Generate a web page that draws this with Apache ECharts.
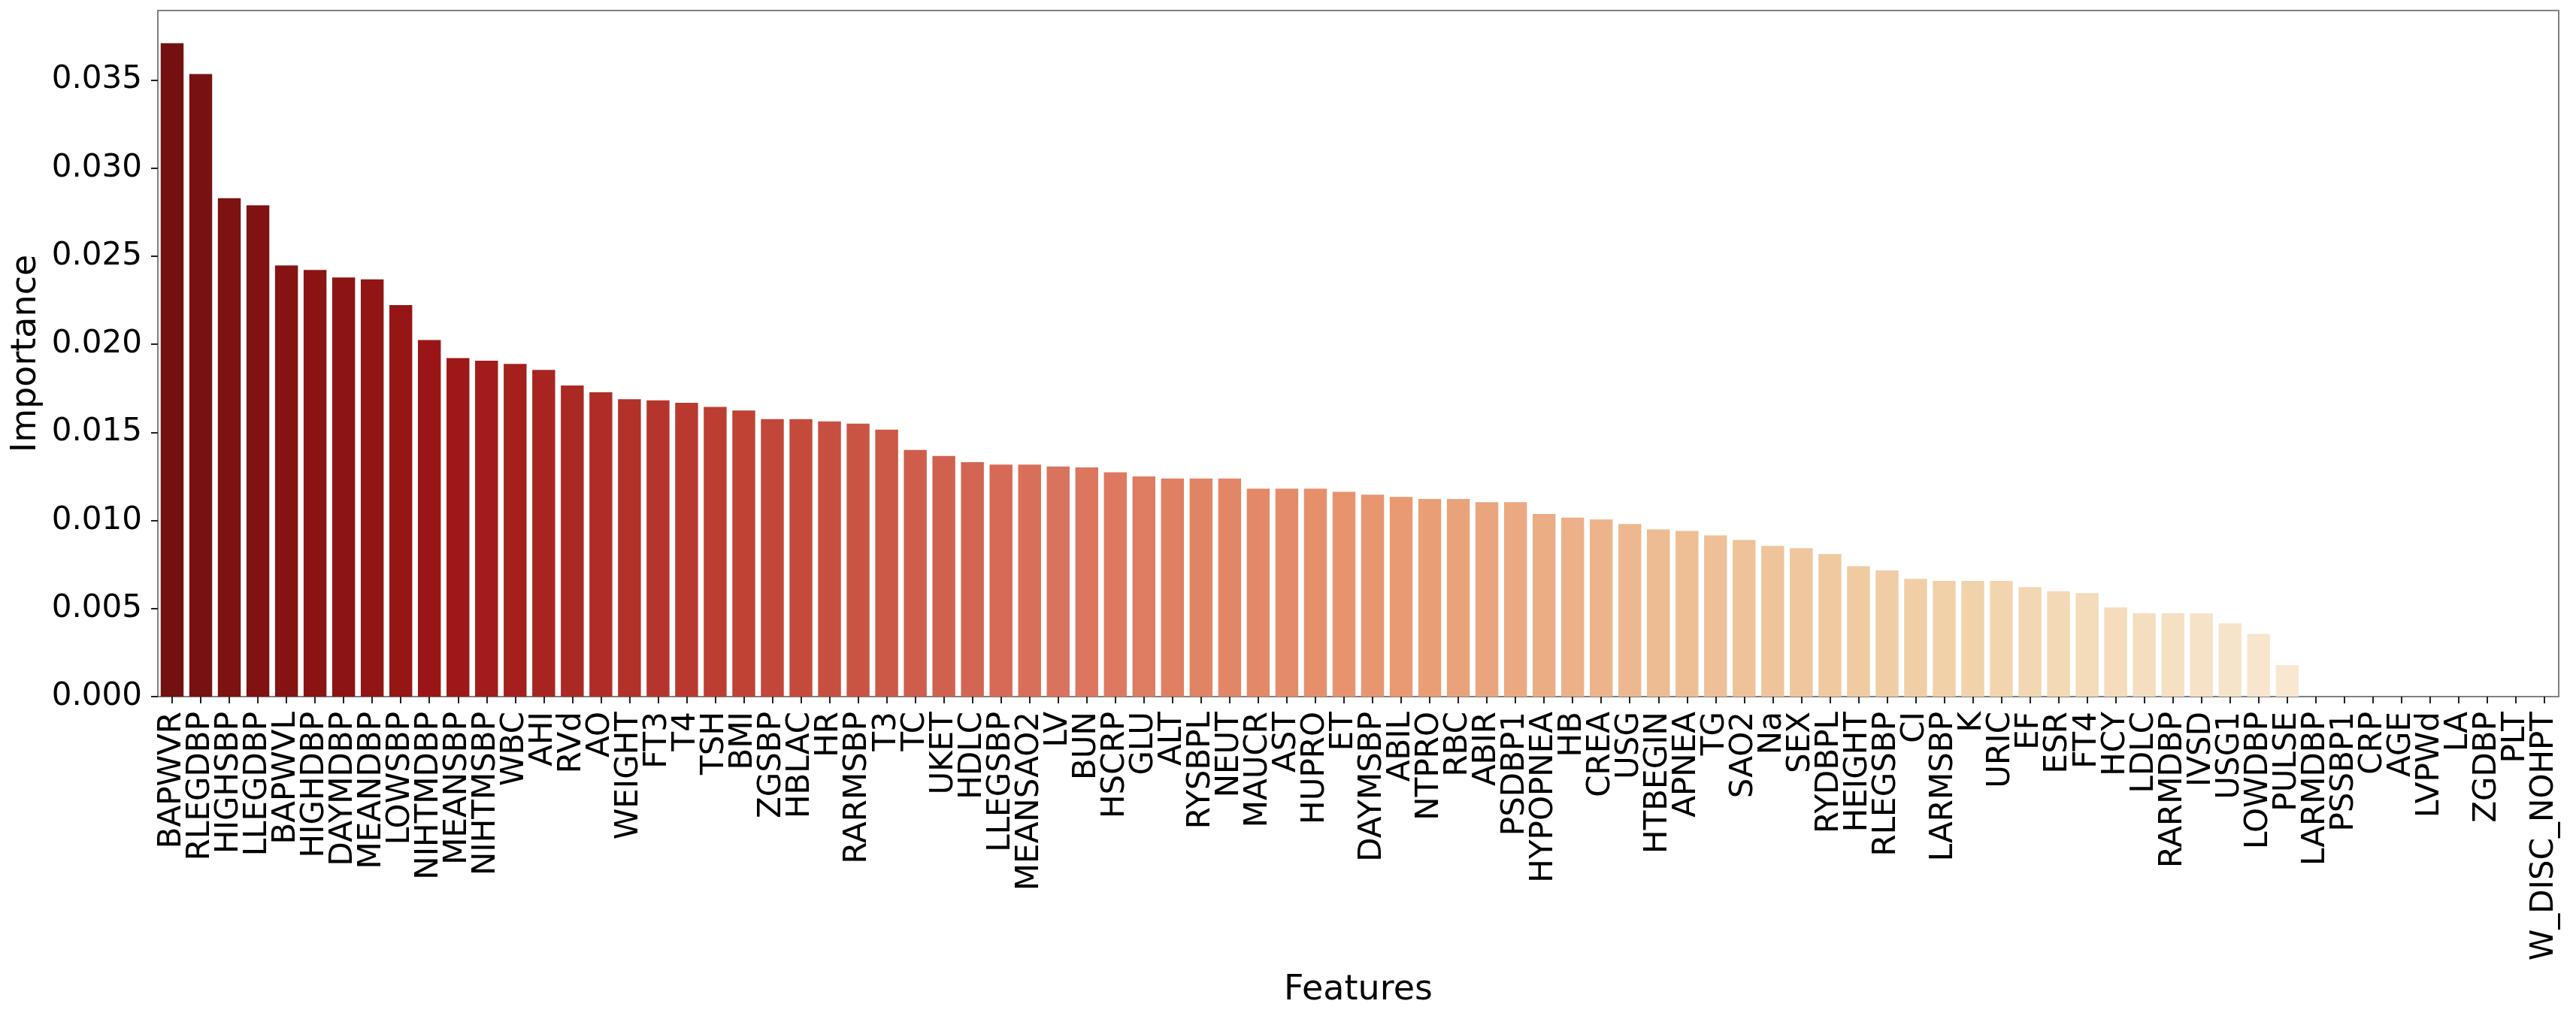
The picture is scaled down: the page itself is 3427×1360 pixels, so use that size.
<!DOCTYPE html>
<html>
<head>
<meta charset="utf-8">
<script src="https://cdn.jsdelivr.net/npm/echarts@6/dist/echarts.min.js"></script>
<style>
  html, body { margin: 0; padding: 0; background: #ffffff; }
  #chart { width: 3427px; height: 1360px; }
</style>
</head>
<body>
<div id="chart"></div>
<script>
const features = ['BAPWVR','RLEGDBP','HIGHSBP','LLEGDBP','BAPWVL','HIGHDBP','DAYMDBP','MEANDBP','LOWSBP','NIHTMDBP',
  'MEANSBP','NIHTMSBP','WBC','AHI','RVd','AO','WEIGHT','FT3','T4','TSH',
  'BMI','ZGSBP','HBLAC','HR','RARMSBP','T3','TC','UKET','HDLC','LLEGSBP',
  'MEANSAO2','LV','BUN','HSCRP','GLU','ALT','RYSBPL','NEUT','MAUCR','AST',
  'HUPRO','ET','DAYMSBP','ABIL','NTPRO','RBC','ABIR','PSDBP1','HYPOPNEA','HB',
  'CREA','USG','HTBEGIN','APNEA','TG','SAO2','Na','SEX','RYDBPL','HEIGHT',
  'RLEGSBP','CI','LARMSBP','K','URIC','EF','ESR','FT4','HCY','LDLC',
  'RARMDBP','IVSD','USG1','LOWDBP','PULSE','LARMDBP','PSSBP1','CRP','AGE','LVPWd',
  'LA','ZGDBP','PLT','W_DISC_NOHPT'];

const importance = [0.03709,0.03535,0.02830,0.02789,0.02448,0.02422,0.02379,0.02369,0.02223,0.02024,
  0.01922,0.01907,0.01889,0.01855,0.01766,0.01728,0.01688,0.01682,0.01668,0.01645,
  0.01624,0.01575,0.01575,0.01562,0.01550,0.01516,0.01400,0.01366,0.01331,0.01317,
  0.01317,0.01307,0.01301,0.01273,0.01250,0.01238,0.01238,0.01238,0.01181,0.01181,
  0.01181,0.01163,0.01146,0.01134,0.01122,0.01122,0.01104,0.01104,0.01037,0.01016,
  0.01006,0.00980,0.00949,0.00941,0.00915,0.00890,0.00855,0.00843,0.00809,0.00740,
  0.00717,0.00669,0.00657,0.00657,0.00657,0.00622,0.00598,0.00588,0.00507,0.00474,
  0.00474,0.00473,0.00416,0.00356,0.00179,0,0,0,0,0,
  0,0,0,0];

const yTicks = [0, 0.005, 0.010, 0.015, 0.020, 0.025, 0.030, 0.035];

// OrRd colormap anchors (reversed palette, desaturated like seaborn)
const orrdAnchors = ['#fff7ec','#fee8c8','#fdd49e','#fdbb84','#fc8d59','#ef6548','#d7301f','#b30000','#7f0000'];
function hexToRgb(h){ return [parseInt(h.slice(1,3),16), parseInt(h.slice(3,5),16), parseInt(h.slice(5,7),16)]; }
function orrd(x){
  const p = Math.max(0, Math.min(1, x)) * 8;
  const i = Math.min(7, Math.floor(p));
  const f = p - i;
  const a = hexToRgb(orrdAnchors[i]), b = hexToRgb(orrdAnchors[i+1]);
  return a.map((v, k) => (v + (b[k] - v) * f) / 255);
}
function rgbToHls(r,g,b){
  const mx = Math.max(r,g,b), mn = Math.min(r,g,b);
  const l = (mx + mn) / 2;
  if (mx === mn) return [0, l, 0];
  const d = mx - mn;
  const s = l <= 0.5 ? d / (mx + mn) : d / (2 - mx - mn);
  let h;
  if (mx === r) h = ((g - b) / d) % 6;
  else if (mx === g) h = (b - r) / d + 2;
  else h = (r - g) / d + 4;
  h = h / 6; if (h < 0) h += 1;
  return [h, l, s];
}
function hlsToRgb(h,l,s){
  if (s === 0) return [l,l,l];
  const q = l < 0.5 ? l * (1 + s) : l + s - l * s;
  const p = 2 * l - q;
  function hue(t){ if (t<0) t+=1; if (t>1) t-=1;
    if (t < 1/6) return p + (q - p) * 6 * t;
    if (t < 1/2) return q;
    if (t < 2/3) return p + (q - p) * (2/3 - t) * 6;
    return p; }
  return [hue(h + 1/3), hue(h), hue(h - 1/3)];
}
function colorFor(i, n){
  const t = (i + 1) / (n + 1);
  const c = orrd(1 - t);
  const hls = rgbToHls(c[0], c[1], c[2]);
  const rgb = hlsToRgb(hls[0], hls[1], hls[2] * 0.75);
  return 'rgb(' + rgb.map(v => Math.round(v * 255)).join(',') + ')';
}

const barData = importance.map((v, i) => ({ value: v, itemStyle: { color: colorFor(i, features.length) } }));

const font = 'DejaVu Sans';
const chart = echarts.init(document.getElementById('chart'), null, { renderer: 'canvas' });
chart.setOption({
  animation: false,
  backgroundColor: '#ffffff',
  grid: { left: 210, right: 23, top: 14, bottom: 433, containLabel: false, show: true, borderColor: '#808080', borderWidth: 2, backgroundColor: 'transparent' },
  xAxis: {
    type: 'category',
    data: features,
    boundaryGap: true,
    name: 'Features',
    nameLocation: 'middle',
    nameGap: 368,
    nameTextStyle: { fontFamily: font, fontSize: 46, color: '#000' },
    axisLine: { show: true, lineStyle: { color: '#808080', width: 2 } },
    axisTick: { show: true, alignWithLabel: true, length: 9, lineStyle: { color: '#222', width: 2 } },
    axisLabel: { rotate: 90, interval: 0, margin: 20, fontFamily: font, fontSize: 42, color: '#000' }
  },
  yAxis: {
    type: 'value',
    min: 0,
    max: 0.03895,
    interval: 0.005,
    name: 'Importance',
    nameLocation: 'middle',
    nameGap: 142,
    nameRotate: 90,
    nameTextStyle: { fontFamily: font, fontSize: 46, color: '#000' },
    splitLine: { show: false },
    axisLine: { show: true, lineStyle: { color: '#808080', width: 2 } },
    axisTick: { show: true, length: 9, lineStyle: { color: '#222', width: 2 }, customValues: yTicks },
    axisLabel: { margin: 21, fontFamily: font, fontSize: 42, color: '#000', customValues: yTicks,
      formatter: v => v.toFixed(3) }
  },
  series: [{
    type: 'bar',
    data: barData,
    barCategoryGap: '20%'
  }]
});
</script>
</body>
</html>
